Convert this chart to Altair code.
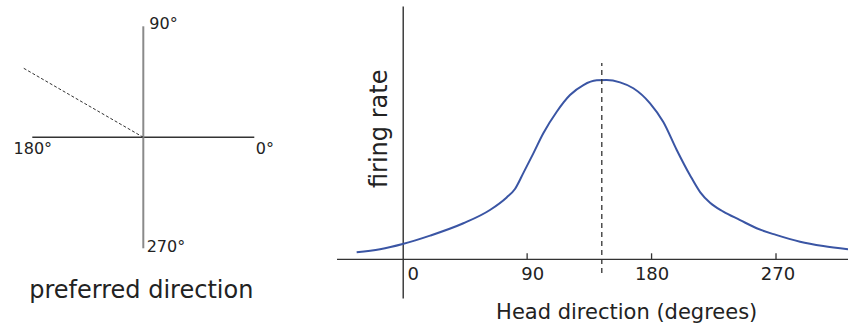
import altair as alt
import numpy as np
import pandas as pd

# ---------------- data ----------------
compass_labels = ["0°", "90°", "180°", "270°"]
compass_angles = [0, 90, 180, 270]
preferred_angle = 150          # dashed line in the compass (degrees)
preferred_length = 1.26        # relative to compass radius

head_direction = [-33.3, -16.4, 0.0, 19.8, 43.9, 63.1, 75.2, 81.2, 87.3, 94.5,
                  101.7, 111.4, 121.0, 130.7, 140.3, 147.5, 157.2, 166.8, 178.9,
                  188.5, 198.2, 207.8, 215.1, 222.3, 231.9, 244.0, 256.0, 270.0,
                  287.4, 304.2, 322.1]
firing_rate = [0.039, 0.056, 0.085, 0.132, 0.201, 0.275, 0.345, 0.392, 0.482, 0.591,
               0.703, 0.823, 0.916, 0.972, 0.998, 1.000, 0.987, 0.954, 0.870,
               0.766, 0.610, 0.469, 0.375, 0.315, 0.266, 0.219, 0.173, 0.136,
               0.098, 0.074, 0.056]
peak_direction = 144
tick_values = [0, 90, 180, 270]
x_extent = [-47.5, 322.1]      # visible range of the head-direction axis line

FONT = "DejaVu Sans"
TXT = "#222222"

# Whole figure is one plot area (848 x 292); each panel uses its own scales.
# ---------------- left panel: compass ----------------
lx = alt.Scale(domain=[-1.291, 6.349], nice=False, zero=False)
ly = alt.Scale(domain=[-1.448, 1.183], nice=False, zero=False)


def pol(a, r=1.0):
    t = np.deg2rad(a)
    return float(np.round(r * np.cos(t), 6)), float(np.round(r * np.sin(t), 6))


hx0, _ = pol(compass_angles[2])
hx1, _ = pol(compass_angles[0])
_, vy0 = pol(compass_angles[3])
_, vy1 = pol(compass_angles[1])
px, py = pol(preferred_angle, preferred_length)

hline = alt.Chart(pd.DataFrame({"x": [hx0], "x2": [hx1], "y": [0.0]})).mark_rule(
    color="#333333", strokeWidth=1.4
).encode(
    x=alt.X("x:Q", scale=lx, axis=None),
    x2="x2:Q",
    y=alt.Y("y:Q", scale=ly, axis=None),
)
vline = alt.Chart(pd.DataFrame({"x": [0.0], "y": [vy0], "y2": [vy1]})).mark_rule(
    color="#8a8a8a", strokeWidth=2
).encode(
    x=alt.X("x:Q", scale=lx, axis=None),
    y=alt.Y("y:Q", scale=ly, axis=None),
    y2="y2:Q",
)
dline = alt.Chart(pd.DataFrame({"x": [0.0], "y": [0.0], "x2": [px], "y2": [py]})).mark_rule(
    color="#333333", strokeWidth=1, strokeDash=[3, 2]
).encode(
    x=alt.X("x:Q", scale=lx, axis=None),
    y=alt.Y("y:Q", scale=ly, axis=None),
    x2="x2:Q",
    y2="y2:Q",
)

lab_df = pd.DataFrame({
    "label": compass_labels,
    "x": [pol(a)[0] for a in compass_angles],
    "y": [pol(a)[1] for a in compass_angles],
})
# per label: align, dx, dy
lab_style = {
    "0°": ("left", 1.5, 16.7),
    "90°": ("left", 6, 3),
    "180°": ("center", 0.5, 16.7),
    "270°": ("left", 3.4, 4),
}
texts = []
for lab in compass_labels:
    al, ddx, ddy = lab_style[lab]
    texts.append(
        alt.Chart(lab_df[lab_df["label"] == lab]).mark_text(
            align=al, baseline="alphabetic", dx=ddx, dy=ddy,
            font=FONT, fontSize=16, color=TXT
        ).encode(
            x=alt.X("x:Q", scale=lx, axis=None),
            y=alt.Y("y:Q", scale=ly, axis=None),
            text="label:N",
        )
    )

caption = alt.Chart(pd.DataFrame({"x": [0.0], "y": [vy0], "t": ["preferred direction"]})).mark_text(
    align="center", baseline="alphabetic", dx=-2, dy=50,
    font=FONT, fontSize=24, color=TXT
).encode(
    x=alt.X("x:Q", scale=lx, axis=None),
    y=alt.Y("y:Q", scale=ly, axis=None),
    text="t:N",
)

# ---------------- right panel: tuning curve ----------------
rx = alt.Scale(domain=[-291.26, 322.07], nice=False, zero=False)
ry = alt.Scale(domain=[-0.2158, 1.4127], nice=False, zero=False)

curve_df = pd.DataFrame({"deg": head_direction, "rate": firing_rate})

x_axis = alt.Axis(
    values=tick_values, offset=-38.7, grid=False, ticks=False, domain=False,
    labelFont=FONT, labelFontSize=18, labelColor=TXT, labelPadding=6,
    labelFlush=False,
    labelOffset={"condition": [{"test": "datum.value === 0", "value": 10},
                               {"test": "datum.value === 90", "value": 5},
                               {"test": "datum.value === 270", "value": 1.5}],
                 "value": 0},
    title="Head direction (degrees)", titleFont=FONT, titleFontSize=21,
    titleFontWeight="normal", titleColor=TXT, titleX=626.2, titleY=59,
    titleBaseline="alphabetic", titleAlign="center",
)
y_axis = alt.Axis(
    offset=-402.7, grid=False, ticks=False, labels=False,
    domainColor="#222222", domainWidth=1.3,
    title="firing rate", titleFont=FONT, titleFontSize=24,
    titleFontWeight="normal", titleColor=TXT, titleX=-16.7, titleY=122.3,
    titleBaseline="alphabetic", titleAlign="center", titleAngle=270,
)

curve = alt.Chart(curve_df).mark_line(
    color="#3a55a4", strokeWidth=2, interpolate="monotone"
).encode(
    x=alt.X("deg:Q", scale=rx, axis=x_axis),
    y=alt.Y("rate:Q", scale=ry, axis=y_axis),
)

xline = alt.Chart(pd.DataFrame({"x": [x_extent[0]], "x2": [x_extent[1]], "y": [0.0]})).mark_rule(
    color="#333333", strokeWidth=1.3
).encode(
    x=alt.X("x:Q", scale=rx, axis=None),
    x2="x2:Q",
    y=alt.Y("y:Q", scale=ry, axis=None),
)

TICK_LEN = 0.0335
tick_df = pd.DataFrame({"deg": tick_values[1:], "y0": 0.0, "y1": TICK_LEN})
ticks = alt.Chart(tick_df).mark_rule(color="#333333", strokeWidth=1.3).encode(
    x=alt.X("deg:Q", scale=rx, axis=None),
    y=alt.Y("y0:Q", scale=ry, axis=None),
    y2="y1:Q",
)

peak_df = pd.DataFrame({"deg": [peak_direction], "y0": [-0.076], "y1": [1.095]})
peak = alt.Chart(peak_df).mark_rule(color="#333333", strokeWidth=1.3, strokeDash=[5, 4]).encode(
    x=alt.X("deg:Q", scale=rx, axis=None),
    y=alt.Y("y0:Q", scale=ry, axis=None),
    y2="y1:Q",
)

chart = alt.layer(
    curve, xline, ticks, peak, hline, vline, dline, *texts, caption
).resolve_scale(
    x="independent", y="independent"
).properties(
    width=848, height=292,
    padding={"left": 0, "top": 6, "right": 0, "bottom": 27},
    autosize=alt.AutoSizeParams(type="none"),
).configure(
    font=FONT, view=alt.ViewConfig(stroke="transparent")
)

chart.save("out.html", embed_options={"renderer": "svg", "actions": False})
